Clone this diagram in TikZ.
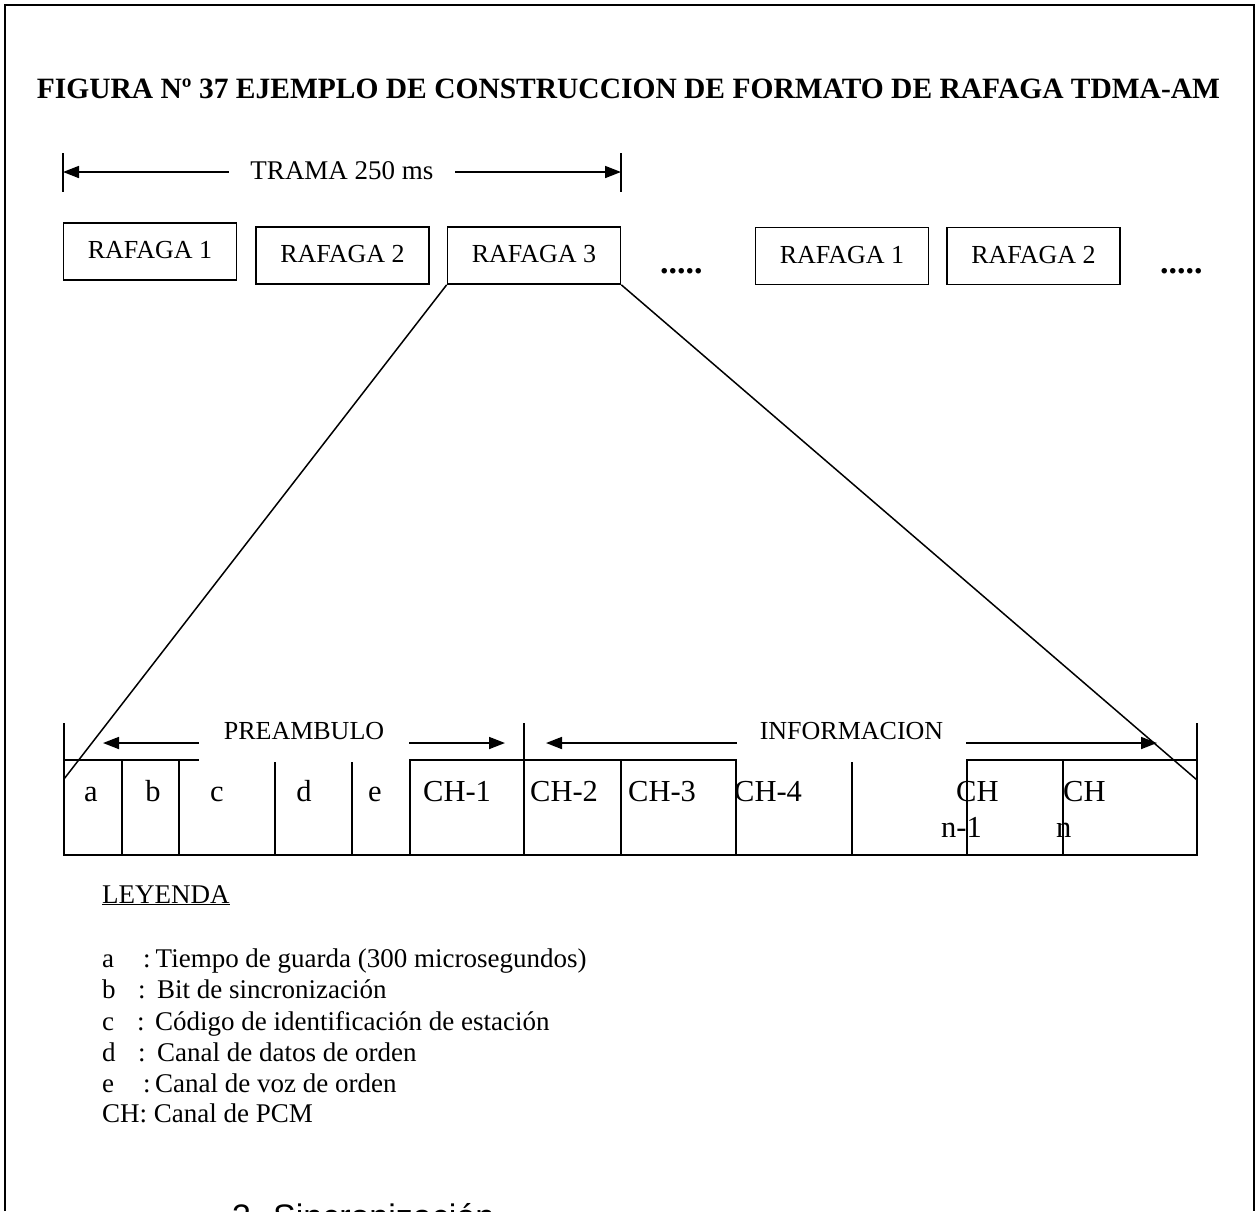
\documentclass[tikz,border=0pt]{standalone}
\usepackage{fontspec}
\setmainfont{Liberation Serif}
\newfontfamily\arialfont{Liberation Sans}
\usetikzlibrary{arrows.meta}

\begin{document}
\begin{tikzpicture}[x=1pt,y=-1pt]
  \tikzstyle{box}=[rectangle,draw,line width=1.7pt,minimum width=173pt,minimum height=57pt,text depth=3pt,font=\fontsize{26}{31}\selectfont]
  \tikzstyle{gapbox}=[fill=white,inner ysep=0pt,font=\fontsize{26}{31}\selectfont]
  \tikzstyle{dimarrow}=[line width=1.7pt,{Triangle[length=16pt,width=12pt]}-{Triangle[length=16pt,width=12pt]}]
  \tikzstyle{celltext}=[inner sep=0pt,font=\fontsize{30.5}{36}\selectfont]
  \tikzstyle{legtext}=[anchor=base west,inner sep=0pt,font=\fontsize{27}{31}\selectfont]
  \tikzstyle{etc}=[anchor=base west,inner sep=0pt,font=\bfseries\fontsize{34}{40}\selectfont]
  \useasboundingbox (0,0) rectangle (1258,1211);
  \draw [line width=2.5pt] (5,1211) -- (5,5) -- (1254,5) -- (1254,1211);
  \node [anchor=base,inner sep=0pt,font=\bfseries\fontsize{29.5}{35}\selectfont] (title) at (628.5,98) {FIGURA Nº 37 EJEMPLO DE CONSTRUCCION DE FORMATO DE RAFAGA TDMA-AM};

  \coordinate (tramaL) at (63,172);
  \coordinate (tramaR) at (621,172);
  \draw [line width=1.7pt] (63,153) -- (63,192) (621,153) -- (621,192);
  \draw [dimarrow] (tramaL) to node [gapbox,inner xsep=21pt,text depth=3pt,font=\fontsize{27}{31}\selectfont] {TRAMA 250 ms} (tramaR);

  \node [box] (rafaga1) at (150,251.5) {RAFAGA 1};
  \node [box] (rafaga2) at (342.5,255.5) {RAFAGA 2};
  \node [box] (rafaga3) at (534,255.5) {RAFAGA 3};
  \node [etc] (etcA) at (660,273) {.....};
  \node [box] (rafaga4) at (842,256) {RAFAGA 1};
  \node [box] (rafaga5) at (1033.5,256) {RAFAGA 2};
  \node [etc] (etcB) at (1160,273) {.....};

  \draw [line width=2pt] (64,723) -- (64,855) -- (1197,855) -- (1197,723);
  \draw [line width=2pt] (64,760) -- (1197,760) (524,723) -- (524,855);
  \draw [line width=1.8pt] (122,760) -- (122,855) (179,760) -- (179,855) (275,760) -- (275,855)
    (352,760) -- (352,855) (410,760) -- (410,855) (621,760) -- (621,855) (736,760) -- (736,855)
    (852,760) -- (852,855) (967,760) -- (967,855) (1063,760) -- (1063,855);

  \coordinate (preL) at (103,743);
  \coordinate (preR) at (505,743);
  \coordinate (infL) at (546,743);
  \coordinate (infR) at (1157,743);
  \draw [dimarrow] (preL) to node [gapbox,inner xsep=25pt,inner ysep=4pt,text depth=19pt,yshift=3pt] {PREAMBULO} (preR);
  \draw [dimarrow] (infL) to node [gapbox,inner xsep=23pt,inner ysep=4pt,text depth=19pt,yshift=3pt] {INFORMACION} (infR);

  \coordinate (burstL) at (64,779);
  \coordinate (burstR) at (1197,780);
  \draw [line width=1.5pt] (rafaga3.south west) -- (burstL);
  \draw [line width=1.5pt] (rafaga3.south east) -- (burstR);

  \node [celltext,anchor=base] (ca) at (91,801) {a};
  \node [celltext,anchor=base] (cb) at (153,801) {b};
  \node [celltext,anchor=base] (cc) at (217,801) {c};
  \node [celltext,anchor=base] (cd) at (304,801) {d};
  \node [celltext,anchor=base] (ce) at (375,801) {e};
  \node [celltext,anchor=base west] (ch1) at (423,801) {CH-1};
  \node [celltext,anchor=base west] (ch2) at (530,801) {CH-2};
  \node [celltext,anchor=base west] (ch3) at (628,801) {CH-3};
  \node [celltext,anchor=base west] (ch4) at (734,801) {CH-4};
  \node [celltext,anchor=base west] (chm) at (956,801) {CH};
  \node [celltext,anchor=base west] (chn) at (1063,801) {CH};
  \node [celltext,anchor=base west] (subm) at (941,837) {n-1};
  \node [celltext,anchor=base west] (subn) at (1056,837) {n};

  \node [legtext] (leyenda) at (102,903) {\underline{LEYENDA}};
  \node [legtext] (keya) at (102,967) {\makebox[41pt][l]{a}:\hspace{5pt}Tiempo de guarda (300 microsegundos)};
  \node [legtext] (keyb) at (102,998) {\makebox[36pt][l]{b}:\hspace{11.5pt}Bit de sincronización};
  \node [legtext] (keyc) at (102,1030) {\makebox[35pt][l]{c}:\hspace{10.5pt}Código de identificación de estación};
  \node [legtext] (keyd) at (102,1061) {\makebox[36pt][l]{d}:\hspace{11.5pt}Canal de datos de orden};
  \node [legtext] (keye) at (102,1092) {\makebox[41pt][l]{e}:\hspace{4.5pt}Canal de voz de orden};
  \node [legtext] (keych) at (102,1122) {CH: Canal de PCM};

  \node [anchor=base west,inner sep=0pt,font=\arialfont\fontsize{34}{40}\selectfont] (seccion) at (232,1228) {3. Sincronización};
\end{tikzpicture}
\end{document}
